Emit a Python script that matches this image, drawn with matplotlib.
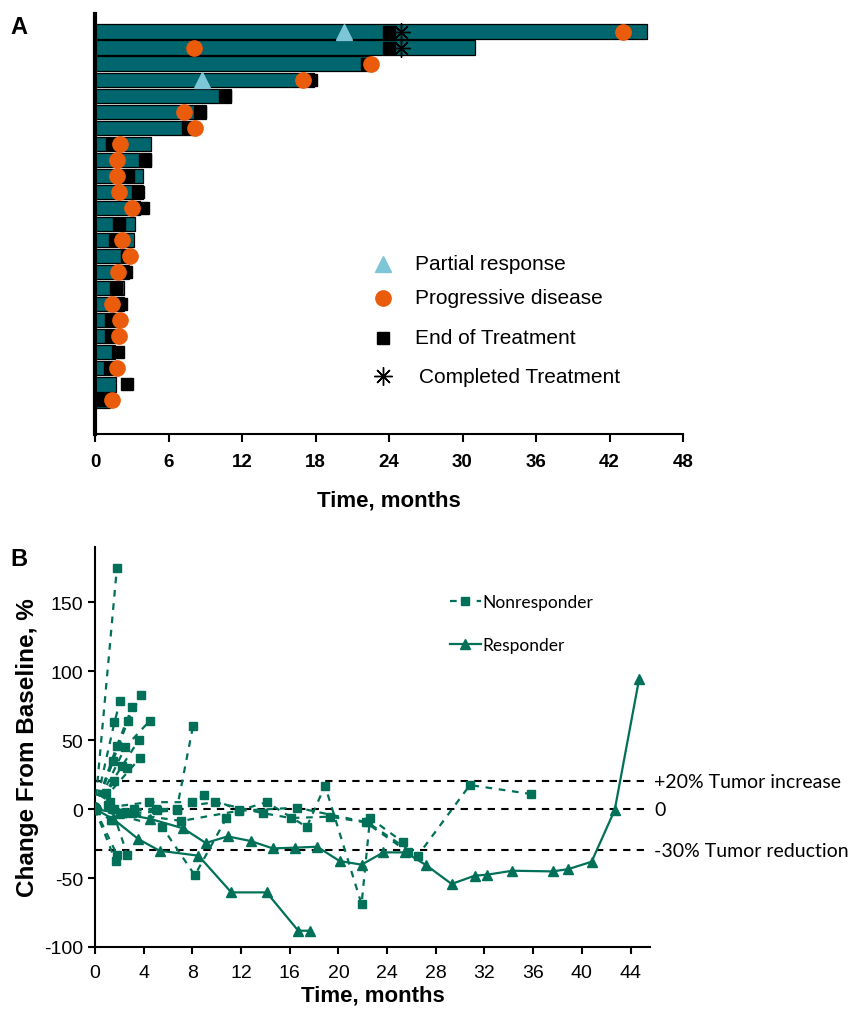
import matplotlib
matplotlib.use("Agg")
import matplotlib.pyplot as plt
import numpy as np

plt.rcParams["font.family"] = ["Liberation Sans", "DejaVu Sans"]
plt.rcParams["axes.unicode_minus"] = False

# ── Panel A data (rows from top to bottom) ─────────────────────
bar_len = [45.1, 31.0, 22.5, 17.9, 11.1, 9.1, 8.2, 4.55, 4.55, 3.9, 3.9, 3.7,
           3.3, 3.15, 2.8, 2.8, 2.35, 2.35, 1.9, 1.9, 1.6, 1.6, 1.75, 1.2]
pr_row = [1, 4]
pr_time = [20.3, 8.7]
pd_row = [1, 2, 3, 4, 6, 7, 8, 9, 10, 11, 12, 14, 15, 16, 18, 19, 20, 22, 24]
pd_time = [43.1, 8.1, 22.5, 17.0, 7.3, 8.2, 2.0, 1.8, 1.8, 1.93, 3.05, 2.2,
           2.83, 1.88, 1.39, 2.0, 1.96, 1.8, 1.39]
eot_row = list(range(1, 25))
eot_time = [24.0, 24.0, 22.2, 17.6, 10.6, 8.6, 7.6, 1.35, 4.1, 2.7, 3.5, 3.9,
            1.93, 1.6, 2.6, 2.56, 1.74, 2.15, 1.28, 1.28, 1.88, 1.2, 2.6, 0.65]
ct_row = [1, 2]
ct_time = [25.0, 25.0]
legendA_labels = ["Partial response", "Progressive disease",
                  "End of Treatment", "Completed Treatment"]

# ── Panel B data ───────────────────────────────────────────────
nonresp = [
    ([0, 1.8], [0, 175]),
    ([0, 1.6, 2.05], [0, 63, 78]),
    ([0, 1.8, 3.06], [0, 46, 74]),
    ([0, 2.7, 3.8], [0, 64, 83]),
    ([0, 2.5, 4.5], [0, 45, 64]),
    ([0, 2.2, 3.6], [0, 31, 50]),
    ([0, 1.5, 2.6], [0, 35, 30]),
    ([0, 3.7], [0, 37]),
    ([0, 0.9, 1.6], [0, 12, 20]),
    ([0, 1.3, 2.3], [0, -8, -3]),
    ([0, 1.1], [0, 3]),
    ([0, 1.6, 3.2, 5.0, 6.7], [0, 0, 0, 0, 0]),
    ([0, 1.7], [0, -38]),
    ([0, 1.8], [0, -33]),
    ([0, 1.2, 2.65], [0, 5, -33]),
    ([0, 3.0, 6.7, 8.05], [0, -3, -1, 60]),
    ([0, 5.5, 8.2, 10.8], [0, -12.7, -48, -6.5]),
    ([0, 4.4, 8.0, 8.95, 11.85, 14.1, 17.4, 18.9, 21.9, 22.6, 25.3],
     [0, 5, 5, 10, -1, 5, -13, 17, -69, -6.5, -24]),
    ([0, 5.1, 9.85, 13.8, 16.1, 19.3, 22.25, 25.7],
     [0, -1, 5, -3, -6.5, -5.5, -9.7, -31]),
    ([0, 7.1, 11.85, 16.6, 22.4, 26.5, 30.8, 35.85],
     [0, -8.6, -1.2, 1, -9.7, -34, 17.4, 10.9]),
]
resp = [
    ([0, 2.0, 4.5, 7.25, 9.1, 10.9, 12.8, 14.6, 16.4, 18.25, 20.1, 21.9, 23.7,
      25.5, 27.2, 29.3, 31.2, 32.2, 34.3, 37.6, 38.9, 40.8, 42.7, 44.7],
     [0, -3, -7, -14, -24.6, -19.8, -23.2, -28.5, -28, -27.3, -37.7, -40.3,
      -31.4, -31.4, -40.6, -54.3, -48.3, -47.6, -44.7, -45.2, -43.5, -38.2,
      -0.7, 94]),
    ([0, 1.5, 3.55, 5.3, 8.5, 11.2, 14.1, 16.7, 17.65],
     [0, -7.2, -21.7, -30.2, -33.8, -60.4, -60.4, -88.2, -88.2]),
]
ref_levels = [20, 0, -30]
ref_labels = ["+20% Tumor increase", "0", "-30% Tumor reduction"]

TEAL = "#00666E"
GREEN = "#007158"
ORANGE = "#EA5B0C"
LIGHTBLUE = "#7CC6D8"

fig = plt.figure(figsize=(8.49, 10.12), dpi=100)

# ── Panel A ───────────────────────────────────────────────────
axA = fig.add_axes([95 / 849, 1 - 435 / 1012, 588 / 849, 420 / 1012])
n = len(bar_len)
ypos = lambda r: n + 1 - np.asarray(r)
axA.barh(ypos(range(1, n + 1)), bar_len, height=0.9, color=TEAL,
         edgecolor="black", linewidth=0.9, zorder=2)
sq_style = dict(marker="s", color="black", ms=8, linestyle="none")
pd_style = dict(marker="o", color=ORANGE, ms=11, linestyle="none")
pr_style = dict(marker="^", color=LIGHTBLUE, ms=11, linestyle="none")
ct_style = dict(marker=(8, 2, 0), color="black", ms=13, mew=1.0,
                linestyle="none")
axA.plot(eot_time, ypos(eot_row), zorder=3, **sq_style)
axA.plot(pd_time, ypos(pd_row), zorder=4, **pd_style)
axA.plot(pr_time, ypos(pr_row), zorder=5, **pr_style)
axA.plot(ct_time, ypos(ct_row), zorder=5, **ct_style)

# legend (placed by hand to match the original spacing)
leg_y = [0.405, 0.324, 0.229, 0.138]
leg_tx = [0.544, 0.544, 0.544, 0.551]
for sty, yy, tx, lab in zip([pr_style, pd_style, sq_style, ct_style], leg_y,
                            leg_tx, legendA_labels):
    axA.plot([0.49], [yy], transform=axA.transAxes, clip_on=False, **sty)
    axA.text(tx, yy, lab, transform=axA.transAxes, fontsize=15,
             va="center", ha="left")

axA.set_xlim(0, 48)
axA.set_ylim(-1.1, n + 1.1)
axA.set_xticks(np.arange(0, 49, 6))
axA.set_yticks([])
for s in ["top", "right"]:
    axA.spines[s].set_visible(False)
axA.spines["left"].set_linewidth(3)
axA.spines["bottom"].set_linewidth(1.5)
axA.tick_params(axis="x", direction="out", length=6, width=1.5, labelsize=13.5,
                pad=8)
for t in axA.get_xticklabels():
    t.set_fontweight("bold")
axA.set_xlabel("Time, months", fontsize=16, fontweight="bold", labelpad=14)
fig.text(10 / 849, 1 - 28 / 1012, "A", fontsize=17, fontweight="bold",
         va="center")

# ── Panel B ───────────────────────────────────────────────────
axB = fig.add_axes([95 / 849, 1 - 948 / 1012, 555 / 849, 400 / 1012])
for i, (x, y) in enumerate(nonresp):
    axB.plot(x, y, color=GREEN, ls=(0, (3, 3)), lw=1.6, marker="s", ms=6,
             label="Nonresponder" if i == 0 else None, zorder=3)
for i, (x, y) in enumerate(resp):
    axB.plot(x, y, color=GREEN, ls="-", lw=1.6, marker="^", ms=6.5,
             label="Responder" if i == 0 else None, zorder=3)
for lev, lab in zip(ref_levels, ref_labels):
    axB.axhline(lev, color="black", ls=(0, (3.5, 3)), lw=1.5, zorder=2)
    axB.text(1.008, lev, lab, transform=axB.get_yaxis_transform(),
             va="center", ha="left", fontsize=14, family="Lato")

axB.set_xlim(0, 45.6)
axB.set_ylim(-100, 190)
axB.set_xticks(np.arange(0, 45, 4))
axB.set_yticks(np.arange(-100, 151, 50))
for s in ["top", "right"]:
    axB.spines[s].set_visible(False)
axB.spines["left"].set_linewidth(1.5)
axB.spines["bottom"].set_linewidth(1.5)
axB.tick_params(direction="out", length=5, width=1.5, labelsize=14)
axB.tick_params(axis="x", pad=7)
axB.set_xlabel("Time, months", fontsize=16, fontweight="bold", labelpad=3)
axB.set_ylabel("Change From Baseline, %", fontsize=17.5, fontweight="bold",
               labelpad=4)
axB.legend(loc="upper left", bbox_to_anchor=(0.611, 0.9225),
           frameon=False, prop={"family": "Lato", "size": 12.5},
           handlelength=1.8, labelspacing=1.6, handletextpad=0.1)
fig.text(10 / 849, 1 - 560 / 1012, "B", fontsize=17, fontweight="bold",
         va="center")

fig.savefig("out.png", dpi=100)
